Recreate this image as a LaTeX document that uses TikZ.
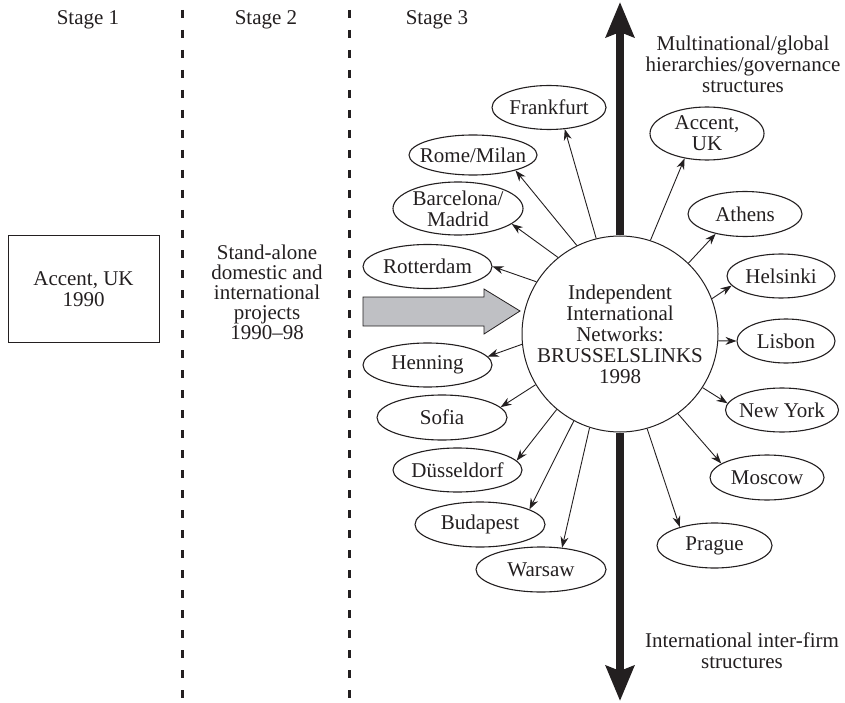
\documentclass[tikz,border=0pt]{standalone}
\usepackage{fontspec}
\setmainfont{Liberation Serif}
\usetikzlibrary{shapes.geometric}
\usetikzlibrary{arrows.meta}
\definecolor{inkblack}{RGB}{35,31,32}
\definecolor{arrowgray}{RGB}{191,192,196}
\tikzset{
  txt/.style={font=\fontsize{21}{21}\selectfont, align=center, text=inkblack},
  city/.style={txt, ellipse, draw=inkblack, line width=1.1pt, inner xsep=-12pt, inner ysep=-6pt, minimum height=44pt},
  spoke/.style={-{Stealth[length=11pt,width=8pt]}, line width=0.9pt, draw=inkblack},
  stagesep/.style={draw=inkblack, line width=3pt, dash pattern=on 8pt off 12pt},
  bigarrow/.style={-{Stealth[length=35pt,width=28pt,inset=5pt]}, line width=8pt, draw=inkblack}
}

\begin{document}
\begin{tikzpicture}[x=1pt,y=-1pt]
            \useasboundingbox (0,0) rectangle (845,703);

            % Stage headings
            \node[txt] (st1) at (88,20) {Stage 1};
            \node[txt] (st2) at (266,20) {Stage 2};
            \node[txt] (st3) at (437,20) {Stage 3};

            % Stage borders
            \draw[stagesep] (182,10) -- (182,703);
            \draw[stagesep] (349,10) -- (349,703);

            % Stage 1
            \node[txt, draw=inkblack, line width=1pt, minimum width=151pt, minimum height=106pt, inner sep=0pt] (firm90) at (83.5,289) {Accent, UK\\1990};

            % Stage 2
            \node[txt, font=\fontsize{21}{20}\selectfont] (projects) at (267,292) {Stand-alone\\domestic and\\international\\projects\\1990--98};

            % Move to stage 3
            \fill[arrowgray, draw=inkblack, line width=0.8pt] (363,297) -- (484,297) -- (484,289) -- (520,311) -- (484,334) -- (484,326) -- (363,326) -- cycle;

            % Hub
            \node[txt, circle, draw=inkblack, fill=white, line width=1pt, minimum size=196pt, inner sep=0pt] (hub) at (620,334) {Independent\\International\\Networks:\\BRUSSELSLINKS\\1998};

            % Vertical axis
            \coordinate (topend) at (620,2);
            \coordinate (botend) at (620,701);
            \draw[bigarrow] (hub.north) -- (topend);
            \draw[bigarrow] (hub.south) -- (botend);
            \node[txt] (hier) at (743,64) {Multinational/global\\hierarchies/governance\\structures};
            \node[txt] (interfirm) at (742,651) {International inter-firm\\structures};

            % Partner cities
            \node[city, minimum width=114pt] (frankfurt) at (549,107.5) {Frankfurt};
            \node[city, minimum width=128pt, minimum height=40pt] (rome) at (473,155) {Rome/Milan};
            \node[city, minimum width=130pt, minimum height=53pt] (barcelona) at (458,208.5) {Barcelona/\\Madrid};
            \node[city, minimum width=129pt] (rotterdam) at (427.5,266.5) {Rotterdam};
            \node[city, minimum width=129pt] (henning) at (427.5,365) {Henning};
            \node[city, minimum width=130pt, minimum height=45pt] (sofia) at (442,417.5) {Sofia};
            \node[city, minimum width=129pt] (duesseldorf) at (457.5,470) {Düsseldorf};
            \node[city, minimum width=130pt, minimum height=45pt] (budapest) at (480,524.5) {Budapest};
            \node[city, minimum width=130pt, minimum height=45pt] (warsaw) at (541,569.5) {Warsaw};
            \node[city, minimum width=114pt, minimum height=53pt] (accentuk) at (707,133.5) {Accent,\\UK};
            \node[city, minimum width=114pt, minimum height=45pt] (athens) at (745,214) {Athens};
            \node[city, minimum width=108pt] (helsinki) at (781,276) {Helsinki};
            \node[city, minimum width=98pt] (lisbon) at (786,341) {Lisbon};
            \node[city, minimum width=113pt] (newyork) at (782,410) {New York};
            \node[city, minimum width=114pt, minimum height=45pt] (moscow) at (767,477.5) {Moscow};
            \node[city, minimum width=115pt, minimum height=45pt] (prague) at (714.5,545.5) {Prague};

            % Links
            \foreach \city/\from/\to in {frankfurt/104/-54, rome/116/-20, barcelona/129/-16, rotterdam/148/0,
                henning/186/8, sofia/211/10, duesseldorf/230/9, budapest/242/17, warsaw/252/46,
                accentuk/72/228, athens/46/214, helsinki/21/191, lisbon/-4/180, newyork/-33/173,
                moscow/-54/163, prague/-74/152} {
                \draw[spoke] (hub.\from) -- (\city.\to);
            }

        \end{tikzpicture}
\end{document}
